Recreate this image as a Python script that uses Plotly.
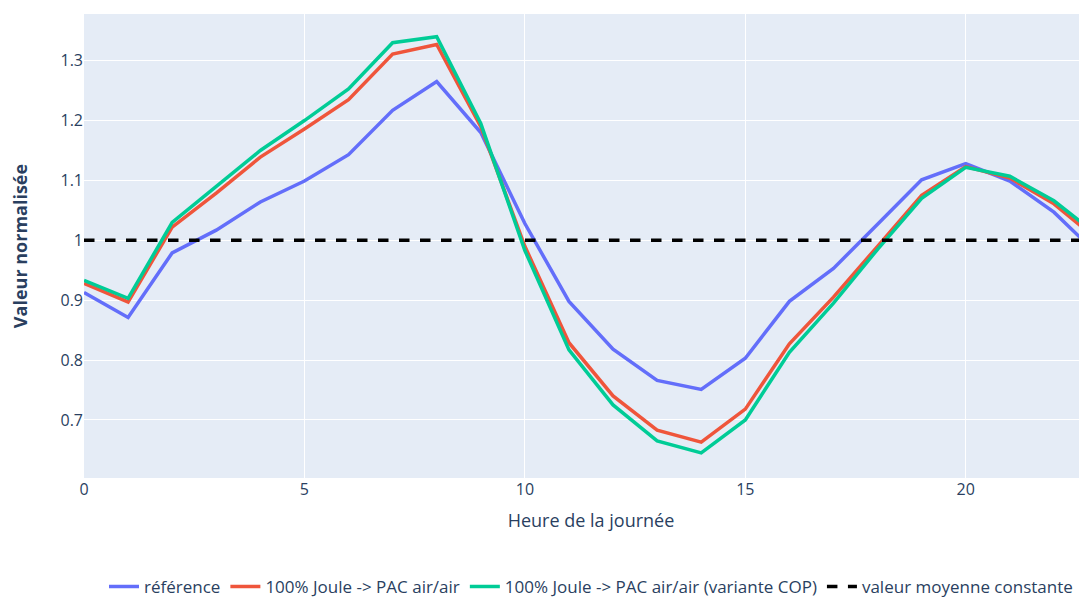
import plotly.graph_objects as go

hours = list(range(24))

reference = [0.913, 0.871, 0.979, 1.017, 1.064, 1.099, 1.143, 1.217, 1.265, 1.180,
             1.028, 0.898, 0.818, 0.766, 0.751, 0.803, 0.898, 0.953, 1.027, 1.101,
             1.128, 1.099, 1.047, 0.976]
joule_pac = [0.928, 0.897, 1.022, 1.079, 1.139, 1.186, 1.235, 1.311, 1.327, 1.190,
             0.990, 0.829, 0.740, 0.683, 0.663, 0.718, 0.827, 0.905, 0.990, 1.075,
             1.123, 1.104, 1.061, 1.000]
joule_pac_cop = [0.933, 0.903, 1.030, 1.090, 1.150, 1.200, 1.253, 1.330, 1.340, 1.195,
                 0.983, 0.817, 0.725, 0.665, 0.645, 0.700, 0.813, 0.895, 0.985, 1.070,
                 1.122, 1.107, 1.066, 1.008]
constant = [1.0] * 24

names = ["référence", "100% Joule -> PAC air/air",
         "100% Joule -> PAC air/air (variante COP)", "valeur moyenne constante"]

fig = go.Figure()
fig.add_trace(go.Scatter(x=hours, y=reference, mode="lines", name=names[0],
                         line=dict(color="#636efa", width=3.5)))
fig.add_trace(go.Scatter(x=hours, y=joule_pac, mode="lines", name=names[1],
                         line=dict(color="#EF553B", width=3.5)))
fig.add_trace(go.Scatter(x=hours, y=joule_pac_cop, mode="lines", name=names[2],
                         line=dict(color="#00cc96", width=3.5)))
fig.add_trace(go.Scatter(x=hours, y=constant, mode="lines", name=names[3],
                         line=dict(color="black", width=3.5, dash="dash")))

fig.update_layout(
    template="plotly",
    width=1100, height=610,
    margin=dict(l=76, r=10, t=6, b=140),
    font=dict(family="Open Sans", size=16, color="#2a3f5f"),
    xaxis=dict(title=dict(text="Heure de la journée", font=dict(size=18)),
               range=[0, 23], dtick=5, zeroline=False),
    yaxis=dict(title=dict(text="<b>Valeur normalisée</b>", font=dict(size=18), standoff=28),
               range=[0.603, 1.378], dtick=0.1, zeroline=False),
    legend=dict(orientation="h", x=0.5, xanchor="center", y=-0.196, yanchor="top",
                font=dict(size=17)),
)

fig.write_html("out.html")
